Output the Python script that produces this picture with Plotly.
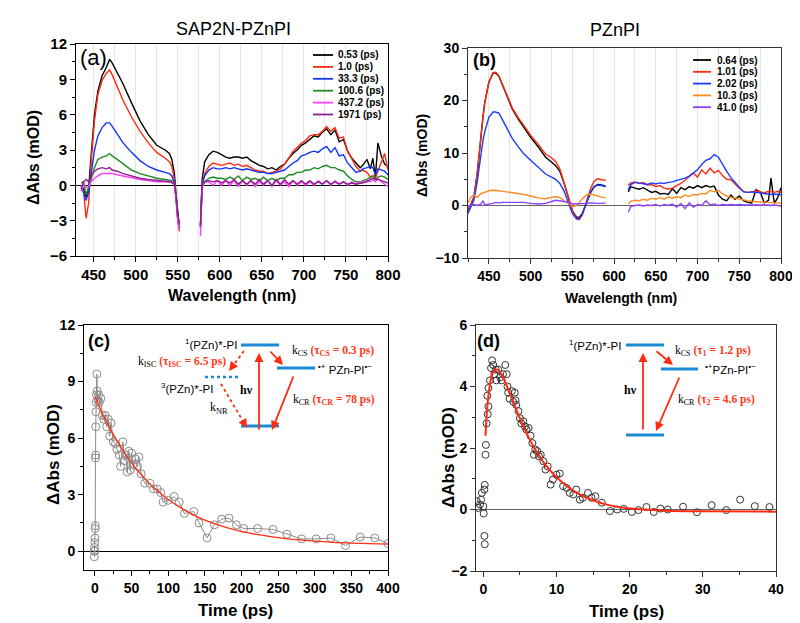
import plotly.graph_objects as go

W, H = 800, 623
SANS = "Arial, Liberation Sans, sans-serif"
SERIF = "Times New Roman, Liberation Serif, serif"

# ---------------- panel (a): SAP2N-PZnPI transient spectra ----------------
WL_A1 = [435, 438, 441, 444, 447, 451, 455, 460, 465, 469,
         472, 478, 485, 495, 505, 515, 525, 535, 540, 543,
         546, 548, 550, 552]
WL_A2 = [577, 579, 582, 587, 592, 597, 602, 607, 612, 617,
         622, 627, 632, 637, 642, 647, 652, 657, 662, 667,
         672, 677, 682, 687, 692, 697, 702, 707, 712, 717,
         722, 727, 732, 737, 742, 747, 752, 757, 762, 767,
         770, 775, 779, 782, 785, 788, 792, 796, 800]

A_LABELS = ["0.53 (ps)", "1.0 (ps)", "33.3 (ps)", "100.6 (ps)", "437.2 (ps)", "1971 (ps)"]
A_COLORS = ["#000000", "#ff2a10", "#1035ff", "#1e8c1e", "#ff40ff", "#8e208e"]

A1_053 = [0.0, -0.3, -1.0, -0.3, 2.5, 6.0, 8.0, 9.3, 10.0, 10.7,
          10.4, 9.6, 8.6, 7.0, 5.5, 4.3, 3.4, 3.0, 2.7, 2.2,
          1.0, -0.8, -2.5, -3.6]
A2_053 = [-3.4, 0.5, 2.0, 2.6, 2.9, 2.8, 2.6, 2.4, 2.3, 2.4,
          2.4, 2.3, 2.4, 2.1, 1.9, 1.7, 1.6, 1.4, 1.5, 1.3,
          1.6, 1.8, 2.3, 2.7, 3.0, 3.4, 3.6, 3.9, 4.2, 4.1,
          4.5, 4.8, 4.3, 4.7, 3.7, 3.9, 2.9, 2.3, 1.9, 1.5,
          1.7, 2.2, 1.4, 2.3, 0.7, 3.6, 2.5, 1.8, 1.6]

A1_10 = [0.0, -0.5, -2.8, -1.5, 2.0, 5.5, 7.7, 8.9, 9.5, 9.8,
         9.4, 8.4, 7.2, 5.8, 4.6, 3.6, 2.8, 2.3, 2.0, 1.6,
         0.5, -1.2, -3.0, -3.9]
A2_10 = [-3.6, 0.2, 1.0, 1.6, 1.9, 1.8, 1.7, 1.8, 1.9, 1.7,
         1.8, 1.6, 1.7, 1.5, 1.3, 1.2, 1.2, 1.0, 1.1, 1.2,
         1.4, 1.8, 2.3, 2.9, 3.2, 3.6, 3.8, 4.2, 4.3, 4.3,
         4.6, 5.0, 4.6, 4.9, 4.0, 4.1, 2.9, 2.2, 1.6, 1.2,
         1.3, 1.1, 0.7, 0.8, 0.6, 1.2, 1.9, 2.7, 1.3]

A1_333 = [0.0, -0.6, -1.3, -0.6, 1.0, 3.0, 4.2, 4.9, 5.3, 5.3,
          5.0, 4.4, 3.6, 2.8, 2.1, 1.6, 1.3, 1.1, 1.0, 0.8,
          0.2, -1.2, -2.8, -3.6]
A2_333 = [-3.6, 0.0, 0.8, 1.3, 1.5, 1.4, 1.4, 1.5, 1.4, 1.5,
          1.4, 1.3, 1.4, 1.3, 1.2, 1.1, 1.1, 1.0, 1.0, 1.1,
          1.2, 1.3, 1.6, 1.9, 2.1, 2.5, 2.6, 2.8, 2.9, 2.8,
          3.1, 3.3, 2.8, 3.2, 2.5, 2.6, 1.9, 1.5, 1.1, 1.2,
          1.4, 1.5, 1.6, 1.5, 0.9, 1.4, 1.3, 1.2, 0.9]

A1_1006 = [0.2, 0.3, -0.8, -0.2, 0.5, 1.5, 2.2, 2.4, 2.5, 2.7,
           2.5, 2.2, 1.8, 1.3, 1.0, 0.8, 0.6, 0.5, 0.4, 0.4,
           0.1, -1.0, -2.7, -3.5]
A2_1006 = [-3.5, -0.1, 0.3, 0.6, 0.7, 0.6, 0.6, 0.5, 0.7, 0.5,
           0.8, 0.4, 0.7, 0.5, 0.6, 0.4, 0.7, 0.4, 0.6, 0.4,
           0.6, 0.6, 0.9, 0.9, 1.1, 1.1, 1.3, 1.3, 1.5, 1.4,
           1.6, 1.7, 1.5, 1.5, 1.3, 1.2, 0.8, 0.5, 0.3, 0.3,
           0.4, 0.5, 0.7, 0.8, 0.5, 0.7, 0.8, 0.7, 0.5]

A1_4372 = [-0.5, 0.3, -0.2, -0.1, 0.3, 0.6, 0.8, 1.0, 1.0, 1.0,
           1.0, 0.9, 0.8, 0.6, 0.5, 0.4, 0.3, 0.3, 0.3, 0.3,
           0.1, -1.0, -3.0, -3.8]
A2_4372 = [-4.3, -0.2, 0.3, 0.3, 0.0, 0.4, 0.0, 0.4, 0.0, 0.4,
           -0.1, 0.4, 0.0, 0.4, -0.1, 0.3, 0.0, 0.4, -0.1, 0.4,
           0.0, 0.3, -0.1, 0.4, 0.0, 0.3, 0.0, 0.3, 0.0, 0.4,
           0.1, 0.4, 0.0, 0.4, 0.1, 0.3, 0.0, 0.3, 0.1, 0.3,
           0.2, 0.4, 0.3, 0.5, 0.3, 0.6, 0.3, 0.1, -0.1]

A1_1971 = [-0.3, 0.3, 0.5, 0.3, 0.8, 1.2, 1.4, 1.5, 1.4, 1.5,
           1.3, 1.2, 1.0, 0.8, 0.6, 0.5, 0.4, 0.3, 0.3, 0.2,
           0.1, -0.8, -2.5, -3.3]
A2_1971 = [-3.4, 0.0, 0.3, 0.4, 0.3, 0.4, 0.2, 0.4, 0.2, 0.5,
           0.1, 0.4, 0.1, 0.4, 0.1, 0.5, 0.1, 0.4, 0.0, 0.5,
           0.1, 0.5, 0.1, 0.4, 0.1, 0.4, 0.1, 0.4, 0.1, 0.3,
           0.1, 0.4, 0.1, 0.3, 0.1, 0.3, 0.1, 0.2, 0.1, 0.2,
           0.2, 0.3, 0.5, 0.6, 0.5, 0.5, 0.4, 0.3, 0.2]

# ---------------- panel (b): PZnPI transient spectra ----------------
WL_B1 = [425, 428, 432, 436, 440, 443, 445, 450, 455, 458,
         462, 467, 472, 478, 485, 492, 500, 510, 518, 525,
         530, 535, 540, 545, 550, 555, 558, 562, 567, 572,
         576, 580, 585, 590]
WL_B2 = [617, 620, 625, 630, 635, 640, 645, 650, 655, 660,
         665, 670, 675, 680, 685, 690, 695, 700, 705, 710,
         715, 720, 725, 730, 735, 740, 745, 750, 755, 760,
         765, 770, 775, 780, 785, 788, 792, 796, 800]

B_LABELS = ["0.64 (ps)", "1.01 (ps)", "2.02 (ps)", "10.3 (ps)", "41.0 (ps)"]
B_COLORS = ["#000000", "#ff2a10", "#1a3cff", "#ff8a1e", "#8a40ff"]

B1_064 = [-1.0, 0.0, 1.5, 6.0, 13.0, 17.0, 19.5, 23.5, 25.2, 25.3,
          24.6, 22.6, 20.6, 18.4, 16.5, 14.8, 13.0, 11.0, 9.2, 8.3,
          7.6, 6.5, 4.3, 1.6, -1.0, -2.2, -2.3, -1.5, 0.5, 2.5,
          3.5, 4.0, 3.9, 3.7]
B2_064 = [2.6, 3.6, 3.3, 3.1, 3.4, 2.9, 2.5, 2.7, 2.2, 2.3,
          2.1, 3.2, 2.3, 3.4, 3.0, 3.6, 3.3, 3.8, 3.4, 3.8,
          3.5, 3.7, 2.0, 1.2, 0.9, 2.0, 1.2, 1.8, 0.9, 0.6,
          0.5, 3.0, 2.6, 0.5, 1.0, 5.2, 0.4, 1.5, 3.4]

B1_101 = [-1.2, 0.0, 1.5, 6.0, 13.0, 17.0, 19.5, 23.5, 25.3, 25.4,
          24.7, 22.8, 20.8, 18.6, 16.8, 15.1, 13.4, 11.5, 9.8, 9.1,
          8.4, 7.0, 4.6, 1.8, -1.0, -2.4, -2.7, -1.8, 0.8, 3.3,
          4.6, 5.1, 4.9, 4.8]
B2_101 = [3.8, 4.3, 4.5, 4.2, 4.4, 3.9, 4.0, 3.6, 3.8, 3.3,
          3.1, 3.3, 3.8, 4.2, 4.8, 5.5, 6.2, 5.4, 6.8, 6.0,
          7.1, 6.2, 6.7, 5.7, 5.0, 4.9, 4.0, 3.3, 2.7, 2.5,
          2.6, 2.8, 2.6, 2.4, 2.7, 2.6, 2.5, 2.7, 2.5]

B1_202 = [-1.5, -0.5, 1.0, 4.5, 9.5, 12.5, 14.0, 16.8, 17.8, 17.8,
          17.6, 16.0, 14.5, 12.8, 11.2, 9.8, 8.6, 7.1, 6.0, 5.4,
          5.0, 4.2, 2.8, 0.6, -1.5, -2.6, -2.6, -1.6, 0.5, 2.6,
          3.6, 3.9, 3.8, 3.6]
B2_202 = [3.0, 4.0, 4.4, 4.3, 4.2, 4.0, 4.3, 4.1, 4.3, 4.2,
          4.4, 4.5, 4.8, 5.0, 5.2, 5.6, 6.2, 6.8, 7.8, 8.6,
          8.9, 9.7, 9.2, 7.8, 6.5, 5.3, 4.4, 3.5, 2.6, 2.5,
          2.6, 2.5, 2.4, 2.3, 2.2, 2.1, 2.2, 2.1, 2.0]

B1_103 = [0.5, 1.5, 2.0, 1.5, 2.2, 2.4, 2.5, 2.8, 2.9, 2.8,
          2.8, 2.7, 2.6, 2.4, 2.3, 2.1, 1.8, 1.4, 1.3, 1.6,
          1.7, 1.5, 1.0, 0.4, -0.2, 0.0, 0.5, 1.3, 2.0, 2.2,
          2.0, 1.8, 1.6, 1.5]
B2_103 = [0.3, 0.8, 1.0, 0.9, 1.2, 1.0, 1.4, 1.2, 1.5, 1.2,
          1.6, 1.4, 1.7, 1.5, 2.0, 1.7, 2.1, 2.0, 2.3, 2.2,
          2.9, 2.6, 2.9, 2.2, 1.8, 1.5, 1.4, 1.2, 1.0, 0.9,
          0.8, 0.7, 0.7, 0.6, 0.6, 0.5, 0.5, 0.5, 0.4]

B1_410 = [-0.3, 0.0, 0.2, 0.0, 0.2, 0.9, 0.1, 0.2, 0.4, 0.6,
          0.5, 0.6, 0.6, 0.7, 0.7, 0.6, 0.4, 0.3, 0.4, 0.8,
          1.0, 0.9, 0.8, 0.6, 0.3, 0.3, 0.3, 0.4, 0.4, 0.5,
          0.4, 0.4, 0.4, 0.5]
B2_410 = [-1.3, -0.2, 0.0, 0.1, -0.1, 0.1, 0.0, 0.2, -0.1, 0.2,
          0.0, 0.3, -0.3, 0.4, -0.6, 0.5, -0.3, 0.2, 0.0, 0.9,
          0.1, 0.3, 0.0, 0.2, 0.1, 0.2, 0.1, 0.2, 0.1, 0.1,
          0.2, 0.1, 0.2, 0.1, 0.1, 0.0, 0.1, 0.0, -0.1]

# ---------------- panel (c): SAP2N-PZnPI kinetics ----------------
T_C = [-1.0, -0.8, -0.6, -0.4, -0.2, 0.0, 0.2, 0.4, 0.6, 0.8,
       1.0, 1.3, 1.6, 2.0, 2.5, 3, 4, 5, 6, 8,
       10, 12, 14, 16, 18, 20, 22, 25, 28, 30,
       33, 35, 38, 40, 42, 44, 46, 48, 50, 52,
       55, 58, 60, 63, 68, 75, 80, 85, 90, 93,
       100, 108, 115, 122, 135, 142, 153, 163, 173, 183,
       193, 203, 222, 243, 262, 282, 302, 322, 342, 362,
       382, 400]
V_C = [-0.3, 0.0, 0.2, 0.0, 0.45, 0.7, 1.2, 1.35, 4.95, 5.1,
       6.6, 7.4, 7.9, 8.3, 9.4, 8.5, 8.0, 8.3, 7.9, 8.1,
       7.2, 7.0, 7.2, 6.6, 7.0, 6.1, 6.8, 5.8, 5.7, 5.4,
       5.1, 4.5, 5.8, 4.8, 5.1, 4.2, 5.3, 4.3, 5.2, 4.6,
       4.9, 4.5, 5.0, 4.1, 3.6, 3.6, 3.3, 3.3, 3.1, 2.6,
       2.7, 2.9, 2.6, 2.0, 2.1, 1.5, 0.7, 1.4, 1.7, 1.75,
       1.4, 1.2, 1.2, 1.15, 0.9, 0.65, 0.65, 0.7, 0.3, 0.75,
       0.7, 0.4]
T_C_FIT = [0, 10, 20, 30, 40, 50, 60, 70, 80, 90, 100, 120,
           140, 160, 180, 200, 225, 250, 275, 300, 325, 350, 375, 400]
V_C_FIT = [8.2, 7.32, 6.54, 5.85, 5.24, 4.69, 4.20, 3.77, 3.38, 3.04, 2.74, 2.23,
           1.82, 1.50, 1.25, 1.05, 0.86, 0.72, 0.61, 0.53, 0.47, 0.43, 0.40, 0.37]

# ---------------- panel (d): PZnPI kinetics ----------------
T_D = [-0.9, -0.7, -0.45, -0.3, -0.2, 0.0, 0.05, 0.15, 0.2, 0.15,
       0.2, 0.3, 0.35, 0.45, 0.6, 0.7, 0.55, 0.7, 0.9, 1.05,
       1.2, 1.35, 1.5, 1.7, 1.8, 2.05, 2.3, 2.5, 2.7, 3.0,
       3.2, 3.3, 3.4, 3.6, 3.9, 4.1, 4.3, 4.4, 4.5, 4.8,
       5.0, 5.2, 5.45, 5.7, 5.9, 6.2, 6.45, 6.7, 6.9, 7.1,
       7.35, 7.6, 7.85, 8.2, 8.5, 8.8, 9.2, 9.5, 10.0, 10.45,
       10.9, 11.4, 11.8, 12.3, 12.7, 13.2, 13.6, 14.3, 14.8, 15.3,
       16.2, 17.3, 18.3, 19.2, 20.3, 21.2, 22.3, 23.3, 24.2, 25.2,
       27.3, 29.2, 31.2, 33.2, 35.1, 37.1, 39.1]
V_D = [0.27, 0.05, 0.16, 0.32, 0.54, 0.1, -0.13, 0.65, 0.8, -0.86,
       -1.13, 1.78, 2.1, 2.8, 3.1, 3.35, 3.7, 3.95, 4.2, 4.6,
       4.85, 4.7, 4.4, 4.55, 4.2, 4.55, 4.3, 4.2, 4.4, 4.7,
       4.4, 4.0, 3.8, 3.6, 3.85, 3.5, 3.8, 3.55, 3.4, 3.2,
       2.97, 2.8, 2.87, 2.7, 2.6, 2.65, 2.4, 2.16, 1.78, 1.95,
       1.9, 1.73, 1.78, 1.57, 1.3, 1.4, 0.81, 0.97, 1.13, 1.17,
       0.76, 0.7, 0.54, 0.49, 0.65, 0.32, 0.38, 0.54, 0.38, 0.43,
       0.22, -0.05, 0.0, 0.02, -0.08, -0.02, 0.08, -0.08, 0.03, 0.0,
       0.09, -0.09, 0.14, -0.02, 0.32, 0.11, 0.08]
T_D_FIT = [0.3, 0.5, 0.8, 1.1, 1.5, 1.8, 2.2, 2.7, 3.5, 4.5, 5.5, 6.5,
           7.5, 8.5, 10, 11.5, 13, 15, 17, 20, 25, 30, 40]
V_D_FIT = [2.4, 3.2, 3.9, 4.3, 4.52, 4.55, 4.5, 4.3, 3.85, 3.25, 2.7, 2.2,
           1.8, 1.45, 1.05, 0.75, 0.52, 0.3, 0.15, 0.03, -0.04, -0.06, -0.07]


def P(px, py):
    """pixel position in the 800x623 picture -> paper coordinates"""
    return px / W, 1 - py / H


def dom_x(a, b):
    return [a / W, b / W]


def dom_y(top, bottom):
    return [1 - bottom / H, 1 - top / H]


fig = go.Figure()

# spectra (a)
a_first = [A1_053, A1_10, A1_333, A1_1006, A1_4372, A1_1971]
a_second = [A2_053, A2_10, A2_333, A2_1006, A2_4372, A2_1971]
for y1, y2, c in zip(a_first, a_second, A_COLORS):
    fig.add_trace(go.Scatter(x=WL_A1 + [560] + WL_A2, y=y1 + [None] + y2, mode="lines",
                             line=dict(color=c, width=1.4), xaxis="x", yaxis="y",
                             showlegend=False, connectgaps=False))

# spectra (b)
b_first = [B1_064, B1_101, B1_202, B1_103, B1_410]
b_second = [B2_064, B2_101, B2_202, B2_103, B2_410]
for y1, y2, c in zip(b_first, b_second, B_COLORS):
    fig.add_trace(go.Scatter(x=WL_B1 + [600] + WL_B2, y=y1 + [None] + y2, mode="lines",
                             line=dict(color=c, width=1.4), xaxis="x2", yaxis="y2",
                             showlegend=False, connectgaps=False))

# kinetics (c)
fig.add_trace(go.Scatter(x=T_C, y=V_C, mode="lines+markers", xaxis="x3", yaxis="y3",
                         line=dict(color="#8c8c8c", width=1),
                         marker=dict(symbol="circle-open", size=8, color="#8c8c8c",
                                     line=dict(width=1)),
                         showlegend=False))
fig.add_trace(go.Scatter(x=T_C_FIT, y=V_C_FIT, mode="lines", xaxis="x3", yaxis="y3",
                         line=dict(color="#ff3010", width=1.3, shape="spline"),
                         showlegend=False))

# kinetics (d)
fig.add_trace(go.Scatter(x=T_D, y=V_D, mode="markers", xaxis="x4", yaxis="y4",
                         marker=dict(symbol="circle-open", size=7, color="#333333",
                                     line=dict(width=1)),
                         showlegend=False))
fig.add_trace(go.Scatter(x=T_D_FIT, y=V_D_FIT, mode="lines", xaxis="x4", yaxis="y4",
                         line=dict(color="#ff2a10", width=2, shape="spline"),
                         showlegend=False))


def axis(domain, rng, tick0, dtick, minor, anchor, size=14, grid=False, zero=False,
         zcolor="black", lcolor="black"):
    d = dict(domain=domain, range=rng, tick0=tick0, dtick=dtick, anchor=anchor,
             showline=True, linecolor=lcolor, linewidth=1, mirror=True,
             ticks="outside", ticklen=5, tickwidth=1, tickcolor=lcolor,
             showgrid=grid, gridcolor="#e6e6e6", gridwidth=1,
             minor=dict(dtick=minor, ticks="outside", ticklen=3, tickcolor=lcolor,
                        showgrid=grid, gridcolor="#e6e6e6"),
             zeroline=zero, zerolinecolor=zcolor, zerolinewidth=1,
             tickfont=dict(family=SANS, size=size, color="black", weight="bold"),
             automargin=False)
    return d


fig.update_layout(
    width=W, height=H, margin=dict(l=0, r=0, t=0, b=0),
    paper_bgcolor="white", plot_bgcolor="white", showlegend=False,
    xaxis=axis(dom_x(68, 380), [429, 800], 450, 50, 25, "y", size=15, grid=True),
    yaxis=axis(dom_y(36, 248), [-6, 12], 0, 3, 1.5, "x", size=15, zero=True),
    xaxis2=axis(dom_x(460, 773), [425, 800], 450, 50, 25, "y2", grid=True, lcolor="#333333"),
    yaxis2=axis(dom_y(40, 250), [-10, 30], 0, 10, 5, "x2", zero=True, zcolor="#666666",
                lcolor="#333333"),
    xaxis3=axis(dom_x(76, 380), [-15, 400], 0, 50, 25, "y3"),
    yaxis3=axis(dom_y(317, 562), [-1, 12], 0, 3, 1.5, "x3", zero=True),
    xaxis4=axis(dom_x(468, 768), [-1, 40], 0, 10, 5, "y4", lcolor="#333333"),
    yaxis4=axis(dom_y(317, 563), [-2, 6], 0, 2, 1, "x4", zero=True, zcolor="#666666",
                lcolor="#333333"),
)

ann = []
shapes = []


def text(px, py, s, size=12, family=SANS, xanchor="center", color="black", angle=0):
    x, y = P(px, py)
    ann.append(dict(x=x, y=y, xref="paper", yref="paper", text=s, showarrow=False,
                    xanchor=xanchor, yanchor="middle", textangle=angle,
                    font=dict(family=family, size=size, color=color)))


def hline(x0, x1, py, color="#1a8ad4", width=3, dash="solid"):
    a, b = P(x0, py)
    c, _ = P(x1, py)
    shapes.append(dict(type="line", xref="paper", yref="paper", x0=a, x1=c, y0=b, y1=b,
                       line=dict(color=color, width=width, dash=dash)))


RED = "#ff2a10"


def arrow(tx, ty, hx, hy, dotted=False):
    if dotted:
        dx, dy = hx - tx, hy - ty
        L = (dx * dx + dy * dy) ** 0.5
        ex, ey = hx - dx / L * 6, hy - dy / L * 6
        a, b = P(tx, ty)
        c, d = P(ex, ey)
        shapes.append(dict(type="line", xref="paper", yref="paper", x0=a, y0=b, x1=c, y1=d,
                           line=dict(color=RED, width=1.8, dash="dot")))
        x, y = P(hx, hy)
        ann.append(dict(x=x, y=y, xref="paper", yref="paper", text="", showarrow=True,
                        ax=-dx / L * 8, ay=-dy / L * 8, arrowhead=2, arrowsize=1,
                        arrowwidth=1.8, arrowcolor=RED))
    else:
        x, y = P(hx, hy)
        ann.append(dict(x=x, y=y, xref="paper", yref="paper", text="", showarrow=True,
                        ax=tx - hx, ay=ty - hy, arrowhead=2, arrowsize=1,
                        arrowwidth=1.8, arrowcolor=RED))


# titles and panel labels
text(225, 21, "SAP2N-PZnPI", size=18)
text(607, 22, "PZnPI", size=18)
text(85, 50, "(a)", size=22)
text(476, 52, "<b>(b)</b>", size=18)
text(91, 333, "<b>(c)</b>", size=18)
text(481, 333, "<b>(d)</b>", size=18)

# axis titles
text(224, 287, "<b>Wavelength (nm)</b>", size=16)
text(25, 150, "<b>ΔAbs (mOD)</b>", size=16, angle=-90)
text(613, 290, "<b>Wavelength (nm)</b>", size=14)
text(414, 147, "<b>ΔAbs (mOD)</b>", size=14, angle=-90)
text(228, 602, "<b>Time (ps)</b>", size=17)
text(45, 447, "<b>ΔAbs (mOD)</b>", size=17, angle=-90)
text(618, 603, "<b>Time (ps)</b>", size=17)
text(440, 450, "<b>ΔAbs (mOD)</b>", size=17, angle=-90)

# legends drawn by hand
for i, (lab, c) in enumerate(zip(A_LABELS, A_COLORS)):
    yy = 47 + 11.9 * i
    hline(305, 325, yy, color=c, width=1.8)
    text(328, yy, "<b>" + lab + "</b>", size=10, xanchor="left")
for i, (lab, c) in enumerate(zip(B_LABELS, B_COLORS)):
    yy = 52 + 11.8 * i
    hline(685, 703, yy, color=c, width=1.8)
    text(707, yy, "<b>" + lab + "</b>", size=10, xanchor="left")

# energy diagram (c)
hline(233, 271, 337)
hline(269, 307, 360)
hline(233, 271, 418)
hline(197, 233, 369, width=2.5, dash="dot")
arrow(251, 423, 251, 345)
arrow(261, 342, 275, 357)
arrow(286, 367, 264, 422)
arrow(236, 343, 221, 363, dotted=True)
arrow(213, 376, 239, 420, dotted=True)
text(231, 336, "<sup>1</sup>(PZn)*-PI", size=11.5, xanchor="right")
text(179, 380, "<sup>3</sup>(PZn)*-PI", size=11.5)
text(308, 361, "<sup>•+</sup> PZn-PI<sup>•−</sup>", size=11.5, xanchor="left")
text(238, 382, "<b>hν</b>", family=SERIF)
text(200, 400, "k<sub>NR</sub>", family=SERIF, xanchor="left")
text(128, 354, "k<sub>ISC</sub> <span style='color:#ff3a1a'><b>(τ<sub>ISC</sub> = 6.5 ps)</b></span>",
     size=11.5, family=SERIF, xanchor="left")
text(282, 343, "k<sub>CS</sub> <span style='color:#ff3a1a'><b>(τ<sub>CS</sub> = 0.3 ps)</b></span>",
     size=11.5, family=SERIF, xanchor="left")
text(283, 392, "k<sub>CR</sub> <span style='color:#ff3a1a'><b>(τ<sub>CR</sub> = 78 ps)</b></span>",
     size=11.5, family=SERIF, xanchor="left")

# energy diagram (d)
hline(618, 656, 337)
hline(653, 690, 361)
hline(618, 656, 427)
arrow(635, 423, 635, 345)
arrow(647, 342, 665, 357)
arrow(672, 368, 648, 423)
text(615, 337, "<sup>1</sup>(PZn)*-PI", size=11.5, xanchor="right")
text(695, 361, "<sup>•+</sup>PZn-PI<sup>•−</sup>", size=11.5, xanchor="left")
text(622, 382, "<b>hν</b>", family=SERIF)
text(665, 343, "k<sub>CS</sub> <span style='color:#ff3a1a'><b>(τ<sub>1</sub> = 1.2 ps)</b></span>",
     size=11.5, family=SERIF, xanchor="left")
text(668, 392, "k<sub>CR</sub> <span style='color:#ff3a1a'><b>(τ<sub>2</sub> = 4.6 ps)</b></span>",
     size=11.5, family=SERIF, xanchor="left")

fig.update_layout(annotations=ann, shapes=shapes)
fig.write_html("out.html")
